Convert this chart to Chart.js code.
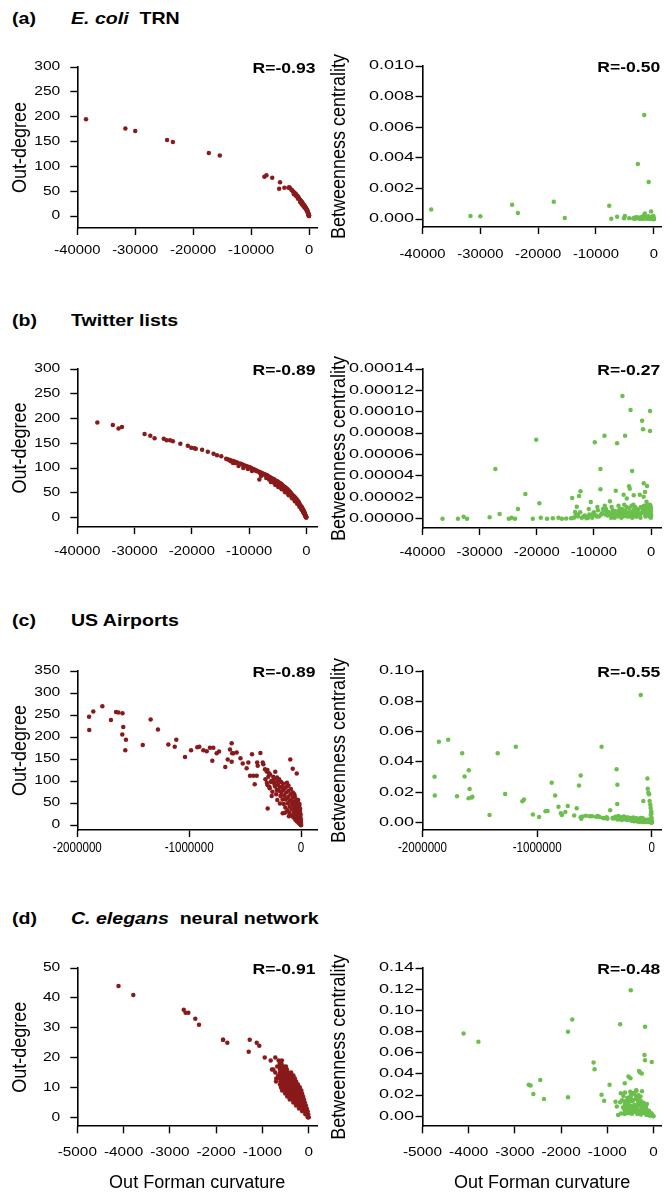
<!DOCTYPE html>
<html>
<head>
<meta charset="utf-8">
<title>Forman curvature, out-degree and betweenness</title>
<script src="https://cdn.jsdelivr.net/npm/chart.js@4"></script>
<style>
  html, body { margin: 0; padding: 0; background: #fff; }
  body { width: 664px; height: 1192px; position: relative; overflow: hidden;
         font-family: "Liberation Sans", Arial, Helvetica, sans-serif; color: #000; }
  canvas { position: absolute; }
  .head { position: absolute; font-size: 17px; line-height: 20px; font-weight: bold;
          white-space: pre; transform-origin: 0 50%; transform: scaleX(1.15); }
</style>
</head>
<body>
<div class="head" style="left:12px;top:8.7px">(a)</div>
<div class="head" style="left:71px;top:8.7px"><i>E. coli</i>  TRN</div>
<div class="head" style="left:12px;top:311.2px">(b)</div>
<div class="head" style="left:71px;top:311.2px">Twitter lists</div>
<div class="head" style="left:12px;top:611.2px">(c)</div>
<div class="head" style="left:71px;top:611.2px">US Airports</div>
<div class="head" style="left:12px;top:908.7px">(d)</div>
<div class="head" style="left:71px;top:908.7px"><i>C. elegans</i>  neural network</div>
<script>
// ---- E. coli TRN: one entry per node ----
const ecoliCurv = [
  -38500, -31700, -30000, -24500, -23500, -17300, -15400, -7700, -7350, -6350,
  -5000, -5150, -4250, -3400, -3550, -3250, -3050, -2900, -2750, -2600,
  -2450, -2300, -2200, -2050, -1950, -1850, -1750, -1650, -1550, -1450,
  -1350, -1250, -1150, -1050, -950, -880, -800, -720, -650, -580,
  -520, -460, -400, -350, -300, -250, -210, -170, -130, -100,
  -70, -50, -30, -15, -5, -1500, -1300, -1100, -900, -700,
  -500, -350, -200, -120, -60, -20, -10, -2600, -2200, -1900
];
const ecoliDeg = [
  195, 176, 171, 153, 149, 127, 122, 79, 82, 77,
  68, 55, 57, 58, 57, 56, 53, 52, 49, 48,
  46, 45, 43, 41, 40, 38, 36, 34, 33, 31,
  30, 29, 27, 25, 23, 22, 21, 20, 18, 17,
  16, 14, 13, 12, 11, 9, 8, 7, 5, 4,
  3, 2, 1, 1, 0, 28, 25, 22, 19, 16,
  13, 10, 6, 3, 2, 0, 1, 44, 40, 35
];
const ecoliBtw = [
  0.00063, 0.00020, 0.00018, 0.00093, 0.00039, 0.00113, 0.00007, 0.00087, 0.00002, 0.00015,
  0.00020, 0.00005, 0.00005, 0.00008, 0.00004, 0.00002, 0.00010, 0.00012, 0.00360, 0.00005,
  0.00005, 0.00010, 0.00002, 0.00008, 0.00015, 0.00005, 0.00020, 0.00680, 0.00037, 0.00010,
  0.00006, 0.00012, 0.00010, 0.00003, 0.00018, 0.00242, 0.00005, 0.00010, 0.00002, 0.00008,
  0.00012, 0.00050, 0.00006, 0.00015, 0.00003, 0.00010, 0.00005, 0.00002, 0.00010, 0.00004,
  0.00002, 0.00006, 0, 0.00001, 0, 0.00004, 0.00009, 0.00003, 0.00007, 0.00012,
  0.00003, 0.00008, 0.00001, 0.00005, 0.00020, 0.00003, 0.00001, 0.00003, 0.00010, 0.00002
];

// ---- Twitter lists ----
const twitterCurv = [
  -36500, -33800, -32800, -32200, -28250, -27250, -26500, -24900, -24400, -23800,
  -23300, -22000, -20700, -20100, -19550, -19300, -18200, -17200, -16200, -15600,
  -14850, -14000, -13800, -13500, -13300, -13000, -12800, -12600, -12350, -12100,
  -11830, -11600, -11300, -11000, -10800, -10550, -10300, -10000, -9850, -9600,
  -9300, -9100, -8860, -8860, -8600, -8400, -8160, -8200, -8000, -7800,
  -7600, -7400, -7200, -7000, -6800, -6600, -6400, -6180, -5950, -5800,
  -5600, -5400, -5200, -5010, -4800, -4650, -4550, -4400, -4250, -4100,
  -3950, -3850, -3730, -3600, -3450, -3320, -3200, -3030, -2900, -2750,
  -2600, -2450, -2300, -2150, -1980, -1850, -1700, -1570, -1450, -1400,
  -1300, -1280, -1200, -1050, -950, -850, -800, -700, -600, -500,
  -420, -350, -280, -230, -175, -175, -120, -80, -40, -10,
  -7000, -6500, -6000, -5600, -5200, -4800, -4500, -4200, -3900, -3600,
  -3300, -3000, -2700, -2400, -2100, -1800, -1500, -1250, -1000, -800,
  -600, -450, -300, -200, -100, -11000, -9500, -12800, -10200, -7900,
  -6900, -6300, -5700, -5100, -4700, -4300, -3800, -3400, -3100, -2800,
  -6200, -5400, -4900, -4300, -3700, -3100, -2500, -2000, -1600, -1200,
  -900, -700, -550, -400, -320, -250, -150, -60, -30, -5,
  -13200, -12400, -11700, -10900, -10100, -9400, -8700, -8100, -7500, -6700
];
const twitterDeg = [
  192, 187, 180, 183, 169, 165, 160, 159, 156, 156,
  154, 149, 145, 141, 140, 139, 137, 133, 129, 126,
  124, 119, 118, 117, 116, 115, 114, 113, 112, 111,
  104, 109, 108, 106, 105, 104, 103, 102, 101, 100,
  98, 97, 96, 95, 94, 93, 92, 77, 91, 90,
  89, 88, 87, 86, 85, 83, 82, 80, 79, 78,
  77, 75, 74, 73, 71, 70, 69, 68, 66, 65,
  63, 62, 61, 60, 58, 57, 55, 53, 52, 50,
  48, 46, 44, 43, 41, 39, 37, 35, 33, 32,
  30, 30, 28, 25, 23, 22, 21, 19, 17, 15,
  13, 11, 9, 7, 5, 4, 3, 2, 1, 0,
  80, 77, 73, 70, 67, 64, 61, 59, 56, 53,
  50, 47, 44, 41, 37, 33, 29, 25, 21, 17,
  13, 10, 7, 4, 2, 100, 94, 110, 98, 84,
  85, 81, 77, 73, 70, 67, 62, 58, 55, 51,
  72, 66, 62, 57, 51, 45, 39, 33, 28, 22,
  18, 15, 12, 9, 8, 6, 3, 2, 1, 0,
  114, 110, 108, 104, 101, 97, 94, 90, 87, 83
];
const twitterBtw = [
  0, 0, 0.0000019, 0, 0.0000013, 0.0000465, 0.0000044, 0, 0.000001, 0,
  0.000009, 0.000023, 0, 0.0000739, 0.0000144, 0.000001, 0, 0.0000005, 0.000001, 0,
  0.0000003, 0.0000005, 0.0000193, 0.000001, 0.0000063, 0.0000112, 0.000002, 0.0000212, 0.0000256, 0.000001,
  0.000002, 0.000003, 0.0000005, 0.000002, 0.000004, 0.0000156, 0.000001, 0.000006, 0.0000714, 0.000003,
  0.000008, 0.000002, 0.0000465, 0.0000275, 0.000005, 0.000009, 0.0000776, 0.000008, 0.000004, 0.000007,
  0.000003, 0.000006, 0.0000163, 0.000004, 0.000002, 0.000006, 0.000001, 0.0000262, 0.0000705, 0.000003,
  0.000008, 0.000002, 0.000005, 0.0001147, 0.0000224, 0.000007, 0.0000776, 0.000003, 0.000019, 0.000005,
  0.000002, 0.0000303, 0.000028, 0.0001016, 0.000006, 0.0000446, 0.000004, 0.0000219, 0.000009, 0.000003,
  0.000006, 0.000002, 0.000008, 0.000004, 0.0000224, 0.000001, 0.000005, 0.0000916, 0.000007, 0.0000836,
  0.0000206, 0.0000331, 0.00001, 0.000025, 0.000002, 0.000012, 0.0000159, 0.0000306, 0.000006, 0.000011,
  0.000004, 0.000009, 0.000002, 0.000013, 0.0001007, 0.000082, 0.000005, 0.000008, 0.000001, 0.000003,
  0.000001, 0.000003, 0.000002, 0.000005, 0.000001, 0.000004, 0.000008, 0.000002, 0.000006, 0.000003,
  0.000001, 0.000007, 0.000002, 0.000009, 0.000004, 0.000011, 0.000006, 0.000012, 0.000003, 0.000008,
  0.000013, 0.000005, 0.00001, 0.000007, 0.000012, 0.000001, 0.000002, 0.000004, 0.000003, 0.000009,
  0.000011, 0.000007, 0.000012, 0.000009, 0.000013, 0.000006, 0.00001, 0.000012, 0.000008, 0.000011,
  0.000004, 0.000009, 0.000002, 0.000011, 0.000005, 0.000013, 0.000007, 0.000003, 0.00001, 0.000006,
  0.000009, 0.000004, 0.000012, 0.000006, 0.000003, 0.000011, 0.000002, 0.000007, 0.00001, 0.000004,
  0.000003, 0.000006, 0.000002, 0.000009, 0.000005, 0.000011, 0.000004, 0.000012, 0.000006, 0.000008
];

// ---- US Airports ----
const airportCurv = [
  -1895000, -1893000, -1857000, -1776000, -1699000, -1654000, -1633000, -1596000, -1589000, -1598000,
  -1565000, -1571000, -1415000, -1344000, -1279000, -1186000, -1129000, -1115000, -1037000, -983000,
  -927000, -909000, -873000, -843000, -814000, -784000, -793000, -754000, -733000, -677000,
  -655000, -635000, -620000, -615000, -605000, -575000, -620000, -541000, -521000, -486000,
  -471000, -438000, -456000, -426000, -396000, -414000, -392000, -387000, -363000, -342000,
  -337000, -322000, -307000, -300000, -301000, -283000, -298000, -277000, -248000, -230000,
  -217000, -212000, -188000, -164000, -143000, -96000, -74000, -38000, -265000, -240000,
  -205000, -198000, -190000, -183000, -176000, -170000, -165000, -160000, -154000, -150000,
  -145000, -140000, -136000, -132000, -127000, -122000, -118000, -114000, -110000, -105000,
  -101000, -98000, -94000, -90000, -86000, -82000, -79000, -75000, -72000, -68000,
  -65000, -62000, -59000, -56000, -52000, -49000, -46000, -44000, -41000, -35000,
  -33000, -30000, -28000, -25000, -23000, -21000, -19000, -17000, -15000, -13000,
  -11000, -10000, -8000, -6000, -5000, -4000, -3000, -2000, -1500, -1000,
  -500, -300, -100, -38000, -9000, -26000, -14000, -60000, -108000, -85000,
  -318000, -305000, -292000, -280000, -268000, -256000, -244000, -232000, -222000, -210000,
  -286000, -262000, -236000, -214000, -196000, -178000, -158000, -142000, -126000, -112000
];
const airportDeg = [
  246, 216, 258, 270, 239, 257, 256, 254, 223, 206,
  194, 170, 182, 240, 217, 183, 178, 194, 155, 170,
  177, 178, 170, 168, 176, 176, 146, 163, 167, 132,
  149, 172, 186, 163, 163, 165, 144, 152, 140, 129,
  142, 161, 112, 112, 112, 93, 142, 135, 164, 142,
  138, 127, 122, 125, 91, 87, 38, 115, 110, 121,
  80, 57, 49, 27, 28, 149, 128, 117, 100, 96,
  92, 78, 86, 66, 74, 88, 58, 80, 48, 68,
  84, 40, 58, 74, 88, 34, 50, 64, 78, 28,
  42, 56, 70, 82, 22, 36, 48, 62, 74, 18,
  29, 41, 53, 65, 13, 24, 35, 46, 58, 19,
  30, 41, 51, 6, 15, 25, 35, 45, 4, 12,
  20, 29, 38, 2, 9, 16, 24, 1, 6, 12,
  0, 3, 1, 9, 33, 57, 48, 70, 20, 55,
  104, 96, 110, 84, 98, 76, 104, 88, 70, 100,
  118, 66, 92, 108, 104, 98, 94, 60, 96, 90
];
const airportBtw = [
  0.0302, 0.0179, 0.0534, 0.0547, 0.0173, 0.0457, 0.0304, 0.0346, 0.0221, 0.0160,
  0.0170, 0.0165, 0.0050, 0.0457, 0.0188, 0.0501, 0.0140, 0.0153, 0.0053, 0.0037,
  0.0074, 0.0076, 0.0263, 0.0179, 0.0105, 0.0050, 0.0061, 0.0070, 0.0109, 0.0047,
  0.0094, 0.0245, 0.0310, 0.0026, 0.0040, 0.0045, 0.0035, 0.0041, 0.0042, 0.0038,
  0.0043, 0.0501, 0.0036, 0.0030, 0.0033, 0.0028, 0.0034, 0.0026, 0.0081, 0.0030,
  0.0027, 0.0028, 0.0352, 0.0250, 0.0122, 0.0024, 0.0021, 0.0030, 0.0026, 0.0032,
  0.0020, 0.0018, 0.0022, 0.0015, 0.0017, 0.0841, 0.0142, 0.0291, 0.0029, 0.0025,
  0.0031, 0.0024, 0.0019, 0.0027, 0.0012, 0.0022, 0.0016, 0.0034, 0.0009, 0.0021,
  0.0013, 0.0018, 0.0028, 0.0008, 0.0015, 0.0011, 0.0024, 0.0006, 0.0019, 0.0009,
  0.0014, 0.0030, 0.0007, 0.0017, 0.0005, 0.0012, 0.0021, 0.0009, 0.0026, 0.0004,
  0.0011, 0.0016, 0.0008, 0.0013, 0.0006, 0.0010, 0.0009, 0.0007, 0.0018, 0.0223,
  0.0012, 0.0197, 0.0008, 0.0004, 0.0187, 0.0015, 0.0142, 0.0006, 0.0003, 0.0118,
  0.0009, 0.0096, 0.0005, 0.0002, 0.0075, 0.0011, 0.0060, 0.0001, 0.0004, 0.0030,
  0, 0.0002, 0.0008, 0.0005, 0.0052, 0.0012, 0.0024, 0.0014, 0.0010, 0.0030,
  0.0038, 0.0031, 0.0044, 0.0027, 0.0035, 0.0022, 0.0040, 0.0029, 0.0019, 0.0033,
  0.0025, 0.0017, 0.0036, 0.0028, 0.0023, 0.0030, 0.0020, 0.0014, 0.0026, 0.0016
];

// ---- C. elegans neural network ----
const elegansCurv = [
  -4110, -3790, -2700, -2660, -2600, -2450, -2370, -1850, -1850, -1758,
  -1296, -1274, -1123, -1067, -950, -821, -793, -721, -721, -706,
  -765, -620, -605, -541, -498, -491, -312, -290, -253, -195,
  -182, -182, -37, -620, -590, -620, -570, -540, -620, -570,
  -520, -470, -615, -560, -505, -445, -380, -605, -550, -485,
  -430, -372, -330, -620, -565, -500, -442, -384, -335, -300,
  -610, -548, -492, -433, -372, -318, -272, -622, -558, -503,
  -440, -382, -328, -281, -232, -598, -540, -483, -420, -362,
  -303, -248, -192, -573, -512, -452, -388, -330, -268, -212,
  -160, -508, -450, -392, -333, -268, -208, -142, -462, -398,
  -342, -279, -221, -168, -120, -410, -348, -291, -229, -171,
  -102, -331, -270, -212, -151, -82, -272, -209, -150, -99,
  -61, -208, -148, -101, -42, -139, -91, -52, -24, -71,
  -41, -11, -20, -5, 0, -660, -680, -700, -650, -580
];
const elegansDeg = [
  44, 41, 36, 35, 35, 33, 31, 26, 26, 25,
  22, 26, 25, 24, 20, 19, 16, 20, 15, 12,
  16, 18, 15, 16, 14, 17, 13, 12, 11, 10,
  9, 8, 1, 18, 18, 17, 17, 17, 16, 16,
  16, 16, 15, 15, 15, 15, 15, 14, 14, 14,
  14, 14, 14, 13, 13, 13, 13, 13, 13, 13,
  12, 12, 12, 12, 12, 12, 12, 11, 11, 11,
  11, 11, 11, 11, 11, 10, 10, 10, 10, 10,
  10, 10, 10, 9, 9, 9, 9, 9, 9, 9,
  9, 8, 8, 8, 8, 8, 8, 8, 7, 7,
  7, 7, 7, 7, 7, 6, 6, 6, 6, 6,
  6, 5, 5, 5, 5, 5, 4, 4, 4, 4,
  4, 3, 3, 3, 3, 2, 2, 2, 2, 1,
  1, 1, 0, 0, 0, 14, 17, 13, 19, 19
];
const elegansBtw = [
  0.0783, 0.0705, 0.0297, 0.0291, 0.0210, 0.0344, 0.0163, 0.0181, 0.0799, 0.0915,
  0.0508, 0.0445, 0.0203, 0.0147, 0.0297, 0.0137, 0.0094, 0.0132, 0.0870, 0.0219,
  0.0012, 0.0313, 0.0045, 0.0376, 0.0360, 0.1190, 0.0429, 0.0414, 0.0404, 0.0579,
  0.0529, 0.0846, 0.0513, 0.0062, 0.0138, 0.0021, 0.0094, 0.0175, 0.0108, 0.0035,
  0.0142, 0.0071, 0.0226, 0.0083, 0.0158, 0.0047, 0.0195, 0.0118, 0.0031, 0.0204,
  0.0087, 0.0241, 0.0136, 0.0055, 0.0172, 0.0099, 0.0221, 0.0064, 0.0150, 0.0113,
  0.0038, 0.0126, 0.0189, 0.0072, 0.0247, 0.0105, 0.0058, 0.0143, 0.0069, 0.0231,
  0.0096, 0.0164, 0.0043, 0.0187, 0.0121, 0.0052, 0.0168, 0.0091, 0.0213, 0.0077,
  0.0135, 0.0236, 0.0061, 0.0112, 0.0029, 0.0154, 0.0086, 0.0198, 0.0047, 0.0129,
  0.0074, 0.0066, 0.0139, 0.0041, 0.0177, 0.0095, 0.0058, 0.0116, 0.0024, 0.0107,
  0.0061, 0.0149, 0.0035, 0.0088, 0.0052, 0.0079, 0.0023, 0.0124, 0.0046, 0.0101,
  0.0033, 0.0057, 0.0018, 0.0092, 0.0041, 0.0026, 0.0039, 0.0068, 0.0015, 0.0052,
  0.0021, 0.0034, 0.0012, 0.0048, 0.0019, 0.0027, 0.0009, 0.0031, 0.0014, 0.0011,
  0.0022, 0.0006, 0.0008, 0.0003, 0.0001, 0.0084, 0.0151, 0.0027, 0.0193, 0.0118
];

// ---- ticks ----
const curvTicks40k = [-40000, -30000, -20000, -10000, 0];
const curvLabels40k = ['-40000', '-30000', '-20000', '-10000', '0'];
const curvTicks2m = [-2000000, -1000000, 0];
const curvLabels2m = ['-2000000', '-1000000', '0'];
const curvTicks5k = [-5000, -4000, -3000, -2000, -1000, 0];
const curvLabels5k = ['-5000', '-4000', '-3000', '-2000', '-1000', '0'];
const degTicks300 = [0, 50, 100, 150, 200, 250, 300];
const degLabels300 = ['0', '50', '100', '150', '200', '250', '300'];
const degTicks350 = [0, 50, 100, 150, 200, 250, 300, 350];
const degLabels350 = ['0', '50', '100', '150', '200', '250', '300', '350'];
const degTicks50 = [0, 10, 20, 30, 40, 50];
const degLabels50 = ['0', '10', '20', '30', '40', '50'];
const btwTicksA = [0, 0.002, 0.004, 0.006, 0.008, 0.010];
const btwLabelsA = ['0.000', '0.002', '0.004', '0.006', '0.008', '0.010'];
const btwTicksB = [0, 0.00002, 0.00004, 0.00006, 0.00008, 0.00010, 0.00012, 0.00014];
const btwLabelsB = ['0.00000', '0.00002', '0.00004', '0.00006', '0.00008', '0.00010', '0.00012', '0.00014'];
const btwTicksC = [0, 0.02, 0.04, 0.06, 0.08, 0.10];
const btwLabelsC = ['0.00', '0.02', '0.04', '0.06', '0.08', '0.10'];
const btwTicksD = [0, 0.02, 0.04, 0.06, 0.08, 0.10, 0.12, 0.14];
const btwLabelsD = ['0.00', '0.02', '0.04', '0.06', '0.08', '0.10', '0.12', '0.14'];

const FONT = '"Liberation Sans", Arial, Helvetica, sans-serif';
const INK = '#000000';
const RED = '#8a1a1a';
const GREEN = '#6bbf4c';

const left = { col: 0, color: RED, plotLeft: 77.3, plotRight: 317, yTitle: 'Out-degree', yTitleX: 20,
               ySize: 12, ySx: 1.3, yGap: 17 };
const right = { col: 1, color: GREEN, plotLeft: 422.5, plotRight: 662, yTitle: 'Betweenness centrality', yTitleX: 339,
                ySize: 12, ySx: 1.5, yGap: 8.5 };

const panels = [
  { ...left, x: ecoliCurv, y: ecoliDeg, r: 'R=-0.93', plotTop: 67, axisY: 228,
    xMin: -40000, xMax: 1380, yMin: -24, yMax: 300, xTicks: curvTicks40k, xLabels: curvLabels40k,
    yTicks: degTicks300, yLabels: degLabels300, xSize: 13, xSx: 1.14, xDy: 22 },
  { ...right, x: ecoliCurv, y: ecoliBtw, r: 'R=-0.50', plotTop: 66, axisY: 227,
    xMin: -40000, xMax: 1380, yMin: -0.00052, yMax: 0.010, xTicks: curvTicks40k, xLabels: curvLabels40k,
    yTicks: btwTicksA, yLabels: btwLabelsA, xSize: 13, xSx: 1.14, xDy: 27 },
  { ...left, x: twitterCurv, y: twitterDeg, r: 'R=-0.89', plotTop: 369, axisY: 527.7,
    xMin: -40000, xMax: 1870, yMin: -19, yMax: 300, xTicks: curvTicks40k, xLabels: curvLabels40k,
    yTicks: degTicks300, yLabels: degLabels300, xSize: 13, xSx: 1.14, xDy: 24 },
  { ...right, x: twitterCurv, y: twitterBtw, r: 'R=-0.27', plotTop: 369, axisY: 528,
    xMin: -40000, xMax: 1870, yMin: -0.0000087, yMax: 0.00014, xTicks: curvTicks40k, xLabels: curvLabels40k,
    yTicks: btwTicksB, yLabels: btwLabelsB, xSize: 13, xSx: 1.14, xDy: 24 },
  { ...left, x: airportCurv, y: airportDeg, r: 'R=-0.89', plotTop: 671, axisY: 830,
    xMin: -2000000, xMax: 143000, yMin: -11, yMax: 350, xTicks: curvTicks2m, xLabels: curvLabels2m,
    yTicks: degTicks350, yLabels: degLabels350, xSize: 14.5, xSx: 0.8, xDy: 18 },
  { ...right, x: airportCurv, y: airportBtw, r: 'R=-0.55', plotTop: 671, axisY: 830.7,
    xMin: -2000000, xMax: 87000, yMin: -0.0049, yMax: 0.10, xTicks: curvTicks2m, xLabels: curvLabels2m,
    yTicks: btwTicksC, yLabels: btwLabelsC, xSize: 14.5, xSx: 0.8, xDy: 18 },
  { ...left, x: elegansCurv, y: elegansDeg, r: 'R=-0.91', plotTop: 968.3, axisY: 1127.3,
    xMin: -5000, xMax: 180, yMin: -3, yMax: 50, xTicks: curvTicks5k, xLabels: curvLabels5k,
    yTicks: degTicks50, yLabels: degLabels50, xSize: 13, xSx: 1.18, xDy: 26, xTitle: 'Out Forman curvature' },
  { ...right, x: elegansCurv, y: elegansBtw, r: 'R=-0.48', plotTop: 968.3, axisY: 1127.3,
    xMin: -5000, xMax: 180, yMin: -0.0094, yMax: 0.14, xTicks: curvTicks5k, xLabels: curvLabels5k,
    yTicks: btwTicksD, yLabels: btwLabelsD, xSize: 13, xSx: 1.18, xDy: 26, xTitle: 'Out Forman curvature' }
];

// text drawn by hand so each label can be widened like the printed figure
function put(ctx, text, px, py, font, align, sx, sy, rot) {
  ctx.save();
  ctx.translate(px, py);
  if (rot) ctx.rotate(rot);
  ctx.scale(sx, sy);
  ctx.font = font;
  ctx.textAlign = align;
  ctx.textBaseline = 'middle';
  ctx.fillStyle = INK;
  ctx.fillText(text, 0, 0);
  ctx.restore();
}

function panelText(p) {
  return {
    id: 'panelText',
    afterDraw(chart) {
      const ctx = chart.ctx, a = chart.chartArea;
      const xs = chart.scales.x, ys = chart.scales.y;
      p.xTicks.forEach((v, i) => put(ctx, p.xLabels[i], xs.getPixelForValue(v), a.bottom + p.xDy,
        `${p.xSize}px ${FONT}`, 'center', p.xSx, 1, 0));
      p.yTicks.forEach((v, i) => put(ctx, p.yLabels[i], a.left - p.yGap, ys.getPixelForValue(v),
        `${p.ySize}px ${FONT}`, 'right', p.ySx, 1, 0));
      put(ctx, p.r, a.right - 1.5, a.top + 2, `bold 15px ${FONT}`, 'right', 1.17, 1, 0);
      put(ctx, p.yTitle, p.yTitleX - p.canvasLeft, (a.top + a.bottom) / 2, `18px ${FONT}`, 'center', 1, 1.15, -Math.PI / 2);
      if (p.xTitle) put(ctx, p.xTitle, (a.left + a.right) / 2, 1183 - p.canvasTop, `18px ${FONT}`, 'center', 1, 1, 0);
    }
  };
}

function drawPanel(p) {
  p.canvasLeft = p.col === 0 ? 0 : 326;
  const width = p.col === 0 ? 326 : 338;
  p.canvasTop = p.plotTop - 30;
  const bottomH = p.xTitle ? 1200 - p.axisY : 45;
  const height = p.axisY - p.canvasTop + bottomH;

  const canvas = document.createElement('canvas');
  canvas.width = width;
  canvas.height = height;
  canvas.style.left = p.canvasLeft + 'px';
  canvas.style.top = p.canvasTop + 'px';
  document.body.appendChild(canvas);

  const axisGrid = { display: true, drawOnChartArea: false, drawTicks: true, tickLength: 7,
                     tickColor: INK, tickWidth: 1.4 };
  const axisBorder = { display: true, color: INK, width: 1.6 };

  new Chart(canvas, {
    type: 'scatter',
    data: {
      datasets: [{
        data: p.x.map((v, i) => ({ x: v, y: p.y[i] })),
        backgroundColor: p.color,
        borderWidth: 0,
        pointRadius: 2.25,
        pointHoverRadius: 2.25
      }]
    },
    options: {
      responsive: false,
      animation: false,
      devicePixelRatio: 1,
      events: [],
      layout: { padding: { left: 0, right: p.canvasLeft + width - p.plotRight, top: 30, bottom: 0 } },
      plugins: { legend: { display: false }, tooltip: { enabled: false } },
      scales: {
        x: {
          type: 'linear', min: p.xMin, max: p.xMax,
          afterBuildTicks: s => { s.ticks = p.xTicks.map(v => ({ value: v })); },
          afterFit: s => { s.height = bottomH; },
          ticks: { display: false },
          grid: axisGrid,
          border: axisBorder
        },
        y: {
          type: 'linear', min: p.yMin, max: p.yMax,
          afterBuildTicks: s => { s.ticks = p.yTicks.map(v => ({ value: v })); },
          afterFit: s => { s.width = p.plotLeft - p.canvasLeft; },
          ticks: { display: false },
          grid: axisGrid,
          border: axisBorder
        }
      }
    },
    plugins: [panelText(p)]
  });
}

panels.forEach(drawPanel);
</script>
</body>
</html>
